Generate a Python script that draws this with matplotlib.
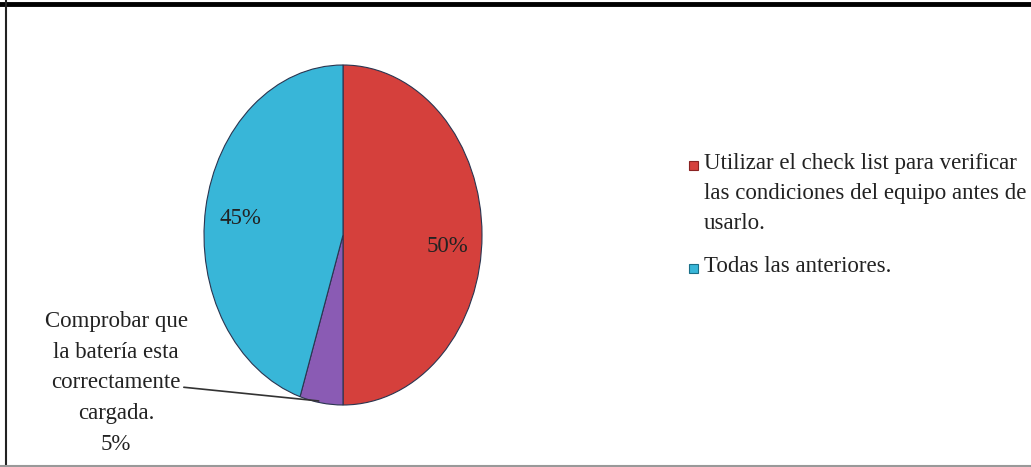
import numpy as np
import matplotlib.pyplot as plt
from matplotlib.patches import Rectangle
from matplotlib.lines import Line2D

plt.rcParams['font.family'] = ['Liberation Serif', 'DejaVu Serif']

# Respuestas
labels = ['Utilizar el check list para verificar\nlas condiciones del equipo antes de\nusarlo.',
          'Comprobar que\nla batería esta\ncorrectamente\ncargada.',
          'Todas las anteriores.']
values = [50, 5, 45]
colors = ['#D5403C', '#8A5BB4', '#38B6D8']
edge_colors = ['#8a2222', '#4a2d6a', '#1a6f88']

FS = 16.5
W, H = 1031, 467

fig = plt.figure(figsize=(W / 100, H / 100), dpi=100)
ax = fig.add_axes([204 / W, 62 / H, 278 / W, 340 / H])

wedges, _, autotexts = ax.pie(values, colors=colors, startangle=90, counterclock=False,
                              autopct='%1.0f%%', pctdistance=0.75,
                              wedgeprops=dict(edgecolor='#2a3550', linewidth=0.8),
                              textprops=dict(fontsize=FS, color='#222222'))
ax.set_aspect('auto')
ax.set_xlim(-1, 1)
ax.set_ylim(-1, 1)

# ajuste fino de las etiquetas de porcentaje
autotexts[0].set_position((0.75, -0.07))
autotexts[2].set_position((-0.74, 0.1))

# la etiqueta del 5% va fuera, con linea guia
autotexts[1].set_visible(False)
w = wedges[1]
mid = np.deg2rad((w.theta1 + w.theta2) / 2)
ax.annotate('', xy=(0.99 * np.cos(mid), 0.99 * np.sin(mid)), xytext=(-1.165, -0.894),
            arrowprops=dict(arrowstyle='-', color='#333333', lw=1.2), annotation_clip=False)
ax.text(-1.633, -0.87, labels[1] + '\n' + f'{values[1]}%', ha='center', va='center',
        fontsize=FS, linespacing=1.6, color='#222222', clip_on=False)

# leyenda (solo las dos opciones que no se etiquetan fuera)
legend_items = [(0, 165), (2, 268)]
for i, ypix in legend_items:
    fig.add_artist(Rectangle((689 / W, 1 - (ypix + 4.5) / H), 9 / W, 9 / H,
                             facecolor=colors[i], edgecolor=edge_colors[i], lw=0.8,
                             transform=fig.transFigure))
    fig.text(704 / W, 1 - (ypix - 12) / H, labels[i], ha='left', va='top',
             fontsize=FS, linespacing=1.55, color='#222222')

# marco
fig.add_artist(Line2D([0, 1], [1 - 4 / H] * 2, color='black', lw=3.5))
fig.add_artist(Line2D([6 / W] * 2, [0, 1], color='#222222', lw=1.5))
fig.add_artist(Line2D([0, 1], [1.5 / H] * 2, color='#999999', lw=1.5))

fig.savefig('out.png', dpi=100)
